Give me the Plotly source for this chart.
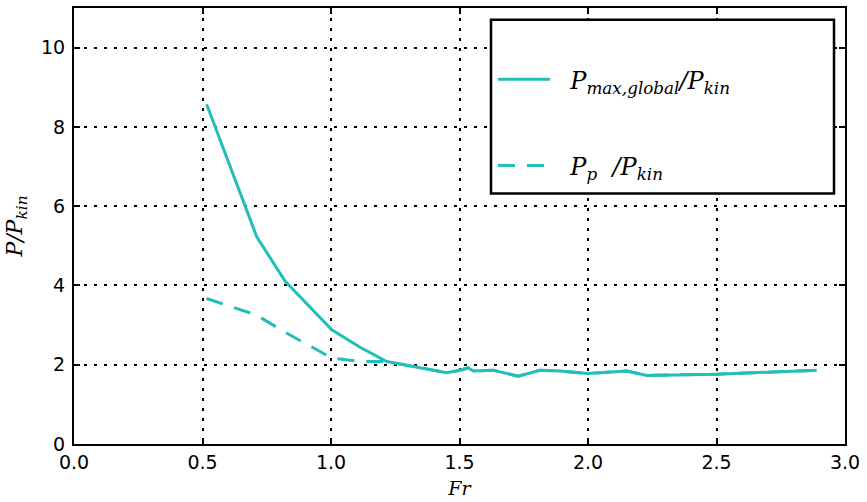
import plotly.graph_objects as go

# Data
fr_max = [0.516, 0.711, 0.821, 1.003, 1.113, 1.217, 1.45, 1.502, 1.534, 1.554,
          1.632, 1.729, 1.813, 1.891, 2.0, 2.15, 2.23, 2.5, 2.89]
p_max = [8.57, 5.23, 4.11, 2.88, 2.44, 2.08, 1.80, 1.86, 1.92, 1.84,
         1.86, 1.71, 1.86, 1.84, 1.78, 1.84, 1.73, 1.76, 1.86]

fr_p = [0.516, 0.711, 0.821, 1.003, 1.113, 1.217, 1.45, 1.502, 1.534, 1.554,
        1.632, 1.729, 1.813, 1.891, 2.0, 2.15, 2.23, 2.5, 2.89]
p_p = [3.67, 3.25, 2.82, 2.17, 2.08, 2.08, 1.80, 1.86, 1.92, 1.84,
       1.86, 1.71, 1.86, 1.84, 1.78, 1.84, 1.73, 1.76, 1.86]

x_ticks = [0.0, 0.5, 1.0, 1.5, 2.0, 2.5, 3.0]
x_ticklabels = ["0.0", "0.5", "1.0", "1.5", "2.0", "2.5", "3.0"]
y_ticks = [0, 2, 4, 6, 8, 10]
y_ticklabels = ["0", "2", "4", "6", "8", "10"]

color = "#22bfb8"
sp = "&nbsp;" * 2

fig = go.Figure()
fig.add_trace(go.Scatter(
    x=fr_p, y=p_p, mode="lines",
    line=dict(color=color, width=3, dash="17px,12px"),
    name=sp + "<i>P<sub>p</sub>&nbsp;&nbsp;/P<sub>kin</sub></i>",
    legendgroup="b", legendrank=2,
))
fig.add_trace(go.Scatter(
    x=fr_max, y=p_max, mode="lines",
    line=dict(color=color, width=3),
    name=sp + "<i>P<sub>max,global</sub>/P<sub>kin</sub></i>",
    legendgroup="a", legendrank=1,
))

axis_common = dict(
    showline=True, linecolor="black", linewidth=2, mirror="ticks",
    ticks="inside", ticklen=6, tickwidth=1.5, tickcolor="black",
    showgrid=True, gridcolor="black", gridwidth=1.5, griddash="3px,7px",
    zeroline=False,
    tickfont=dict(family="DejaVu Sans", size=19, color="black"),
)

fig.update_layout(
    width=867, height=502,
    margin=dict(l=74, r=22, t=6, b=52),
    plot_bgcolor="white", paper_bgcolor="white",
    xaxis=dict(range=[0, 3], tickvals=x_ticks, ticktext=x_ticklabels,
               title=dict(text="<i>Fr</i>", standoff=10,
                          font=dict(family="DejaVu Serif", size=19, color="black")),
               **axis_common),
    yaxis=dict(range=[0, 11], tickvals=y_ticks, ticktext=y_ticklabels,
               ticklabelstandoff=3,
               title=dict(text="<i>P/P<sub>kin</sub></i>", standoff=12,
                          font=dict(family="DejaVu Serif", size=22, color="black")),
               **axis_common),
    legend=dict(
        x=(493 - 74) / 771, y=1 - (56 - 6) / 444, xanchor="left", yanchor="top",
        bgcolor="rgba(0,0,0,0)", borderwidth=0,
        font=dict(family="DejaVu Serif", size=24, color="black"),
        itemwidth=52, tracegroupgap=52, traceorder="grouped",
    ),
    shapes=[dict(type="rect", xref="paper", yref="paper",
                 x0=(491 - 74) / 771, x1=(834 - 74) / 771,
                 y0=1 - (195 - 6) / 444, y1=1 - (18 - 6) / 444,
                 line=dict(color="black", width=2.5), fillcolor="white",
                 layer="above")],
)
fig.write_html("out.html", config={"displayModeBar": False},
               post_script="document.body.style.margin='0';")
